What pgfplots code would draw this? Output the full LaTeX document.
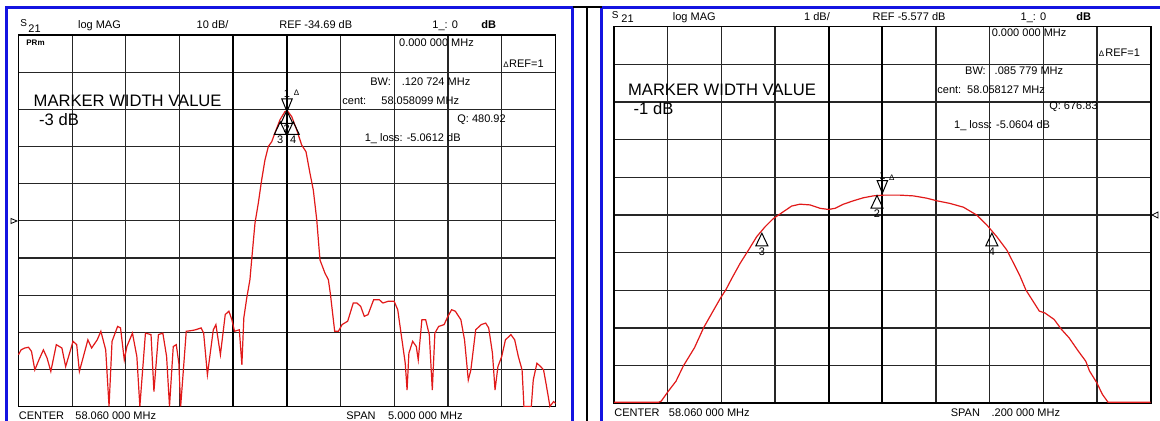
\documentclass[border=0pt]{standalone}
\usepackage{pgfplots}
\pgfplotsset{compat=1.18}
\usepackage{fontspec}
\setmainfont{Liberation Sans}

\definecolor{vnablue}{RGB}{20,20,225}
\definecolor{trace}{RGB}{225,25,25}
\newcommand\sm{\fontsize{5.5}{6}\selectfont}
\newcommand\bg{\fontsize{8.3}{9}\selectfont}

% marker triangles, tip on the trace point
\pgfdeclareplotmark{mkup}{%
  \pgfpathmoveto{\pgfpointorigin}%
  \pgfpathlineto{\pgfpoint{-3pt}{-6.3pt}}%
  \pgfpathlineto{\pgfpoint{3pt}{-6.3pt}}%
  \pgfpathclose\pgfusepathqstroke}
\pgfdeclareplotmark{mkdown}{%
  \pgfpathmoveto{\pgfpointorigin}%
  \pgfpathlineto{\pgfpoint{-2.6pt}{6.3pt}}%
  \pgfpathlineto{\pgfpoint{2.6pt}{6.3pt}}%
  \pgfpathclose\pgfusepathqstroke}

\pgfplotsset{
  vna/.style={
    scale only axis, anchor=south west, clip=false,
    axis line style={black, line width=0.8pt},
    grid=major, grid style={black!85, line width=0.6pt},
    major tick length=0pt,
    xticklabels={}, yticklabels={},
    extra x tick labels={},
    extra x tick style={grid style={black, line width=1.1pt}},
  },
  tr/.style={trace, line width=0.6pt, mark=none},
  mk/.style={only marks, black, line width=0.5pt, point meta=explicit symbolic,
    nodes near coords,
    every node near coord/.append style={anchor=north, yshift=-6.6pt,
      inner sep=0.3pt, font=\sm, text=black}},
  mkd/.style={only marks, black, line width=0.5pt, point meta=explicit symbolic,
    nodes near coords,
    every node near coord/.append style={anchor=south, yshift=6.4pt,
      inner sep=0.3pt, font=\sm, text=black}},
}

\begin{document}
\begin{tikzpicture}
\path[use as bounding box] (0,0) rectangle (580pt,210.5pt);

% frames
\begin{scope}[x=0.5pt,y=0.5pt]
  \clip (0,0) rectangle (1160,421);
  \draw[vnablue, line width=1.3pt] (6.5,-5) -- (6.5,413.5) -- (572.5,413.5) -- (572.5,-5);
  \draw[vnablue, line width=1.3pt] (601.5,-5) -- (601.5,413.5) -- (1170,413.5);
  \draw[black, line width=1pt] (572.5,413.5) -- (601.5,413.5) (586.7,413.5) -- (586.7,-5);
  % reference position arrows
  \draw[line width=0.4pt] (11,202.5) -- (17,200) -- (11,197.5) -- cycle;
  \draw[line width=0.4pt] (1158,209) -- (1152,206) -- (1158,203) -- cycle;
\end{scope}

% left: 10 dB/div, span 5 MHz
\begin{axis}[vna, at={(9.25pt,7.15pt)}, width=268.5pt, height=185.85pt,
  xmin=-2.5, xmax=2.5, ymin=-84.69, ymax=15.31,
  xtick={-2,-1.5,-1,0.5,1,1.5,2}, extra x ticks={-0.5,0},
  ytick={-74.69,-64.69,-54.69,-44.69,-34.69,-24.69,-14.69,-4.69,5.31}]
\addplot[tr] coordinates {
(-2.500,-70.7) (-2.476,-69.4) (-2.441,-68.9) (-2.407,-68.7) (-2.379,-69.8)
(-2.348,-74.8) (-2.310,-72.1) (-2.268,-69.4) (-2.234,-71.6) (-2.199,-75.2)
(-2.148,-68.0) (-2.096,-68.9) (-2.061,-73.9) (-1.992,-67.1) (-1.958,-68.0)
(-1.933,-75.2) (-1.854,-66.7) (-1.819,-68.9) (-1.767,-66.7) (-1.733,-64.4)
(-1.688,-69.4) (-1.657,-84.6) (-1.629,-67.1) (-1.577,-63.1) (-1.550,-63.5)
(-1.515,-72.1) (-1.491,-68.5) (-1.439,-64.9) (-1.398,-71.2) (-1.370,-84.6)
(-1.318,-64.9) (-1.266,-65.3) (-1.239,-80.6) (-1.197,-65.3) (-1.156,-64.9)
(-1.121,-71.2) (-1.094,-84.6) (-1.059,-68.5) (-1.031,-68.0) (-1.007,-73.0)
(-0.990,-84.6) (-0.938,-64.4) (-0.886,-64.2) (-0.852,-64.0) (-0.800,-63.5)
(-0.776,-64.9) (-0.741,-76.1) (-0.686,-64.0) (-0.662,-62.6) (-0.620,-70.7)
(-0.575,-59.9) (-0.541,-59.0) (-0.513,-61.3) (-0.489,-64.4) (-0.444,-64.0)
(-0.420,-73.4) (-0.402,-60.8) (-0.375,-55.5) (-0.345,-50.5) (-0.329,-45.2)
(-0.298,-35.3) (-0.267,-29.9) (-0.236,-23.7) (-0.205,-18.3) (-0.174,-14.7)
(-0.142,-13.4) (-0.112,-11.0) (-0.065,-7.5) (-0.019,-5.3) (0.003,-5.06)
(0.044,-6.65) (0.090,-10.2) (0.137,-14.3) (0.177,-16.1) (0.214,-21.9)
(0.245,-26.4) (0.277,-34.4) (0.307,-45.2) (0.354,-48.8) (0.385,-50.5)
(0.403,-54.1) (0.444,-64.4) (0.479,-64.4) (0.513,-62.6) (0.565,-61.7)
(0.617,-56.8) (0.651,-56.8) (0.686,-57.7) (0.720,-60.4) (0.755,-59.9)
(0.807,-55.9) (0.859,-55.9) (0.893,-56.8) (0.945,-56.3) (0.997,-56.3)
(1.031,-58.6) (1.066,-65.8) (1.101,-73.0) (1.118,-80.2) (1.135,-70.3)
(1.170,-67.1) (1.204,-68.5) (1.222,-72.1) (1.256,-61.3) (1.291,-61.3)
(1.325,-65.3) (1.353,-80.2) (1.377,-64.9) (1.412,-63.1) (1.463,-62.6)
(1.498,-60.4) (1.533,-58.6) (1.567,-59.0) (1.619,-61.3) (1.653,-66.7)
(1.688,-77.5) (1.712,-74.8) (1.757,-64.0) (1.809,-62.6) (1.850,-62.2)
(1.878,-63.5) (1.913,-70.3) (1.937,-80.2) (1.964,-73.9) (1.999,-71.2)
(2.034,-66.7) (2.085,-65.3) (2.120,-66.7) (2.154,-71.2) (2.189,-74.8)
(2.206,-84.6) (2.275,-84.6) (2.293,-77.5) (2.327,-73.0) (2.362,-73.9)
(2.389,-74.8) (2.414,-78.8) (2.448,-84.6) (2.483,-83.3) (2.500,-83.8)
};
\addplot[mk, mark=mkup] coordinates {(-0.002,-5.06) [2] (-0.0624,-8.06) [3] (0.0584,-8.06) [4]};
\addplot[mkd, mark=mkdown] coordinates {(0,-5.3) [1]};
\node[font=\fontsize{4}{4}\selectfont, inner sep=0] at (axis cs:0.09,-0.36) {Δ};
\end{axis}

% right: 1 dB/div, span 0.2 MHz
\begin{axis}[vna, at={(307pt,8.85pt)}, width=268.35pt, height=188.3pt,
  xmin=-0.1, xmax=0.1, ymin=-10.577, ymax=-0.577,
  xtick={-0.08,-0.06,-0.04,0.02,0.04,0.06,0.08}, extra x ticks={-0.02,0},
  ytick={-9.577,-8.577,-7.577,-6.577,-5.577,-4.577,-3.577,-2.577,-1.577}]
\addplot[tr] coordinates {
(-0.1,-10.55) (-0.0834,-10.55) (-0.0824,-10.52) (-0.0797,-10.25) (-0.0769,-9.99)
(-0.0742,-9.59) (-0.0700,-9.10) (-0.0666,-8.57) (-0.0631,-8.13) (-0.0603,-7.78)
(-0.0583,-7.56) (-0.0561,-7.26) (-0.0530,-6.86) (-0.0499,-6.51) (-0.0468,-6.15)
(-0.0437,-5.89) (-0.0406,-5.67) (-0.0369,-5.49) (-0.0338,-5.34) (-0.0307,-5.29)
(-0.0269,-5.31) (-0.0232,-5.40) (-0.0201,-5.43) (-0.0176,-5.40) (-0.0145,-5.29)
(-0.0108,-5.20) (-0.0071,-5.12) (-0.0034,-5.07) (0.0004,-5.05) (0.0066,-5.05)
(0.0116,-5.07) (0.0165,-5.13) (0.0203,-5.20) (0.0252,-5.27) (0.0302,-5.37)
(0.0352,-5.58) (0.0389,-5.84) (0.0426,-6.15) (0.0464,-6.51) (0.0487,-6.83)
(0.0513,-7.20) (0.0535,-7.57) (0.0585,-8.13) (0.0606,-8.18) (0.0640,-8.35)
(0.0668,-8.62) (0.0696,-8.84) (0.0730,-9.19) (0.0758,-9.46) (0.0772,-9.72)
(0.0799,-10.03) (0.0820,-10.34) (0.0841,-10.55) (0.1,-10.55)
};
\addplot[mk, mark=mkup] coordinates {(-0.002,-5.06) [2] (-0.0449,-6.06) [3] (0.0408,-6.06) [4]};
\addplot[mkd, mark=mkdown] coordinates {(0,-5.0) [1]};
\node[font=\fontsize{4}{4}\selectfont, inner sep=0] at (axis cs:0.0035,-4.60) {Δ};
\end{axis}

% annotation texts, in pixel units
\begin{scope}[x=0.5pt,y=0.5pt, every node/.style={inner sep=0, anchor=base west, font=\sm}]
  % left
  \node[font=\fontsize{5}{5}\selectfont] at (20,394) {S};
  \node at (28,388.7) {21};
  \node at (77.7,392) {log MAG};
  \node at (196.3,392) {10 dB/};
  \node at (279,392) {REF -34.69 dB};
  \node at (432,392) {1\_: 0};
  \node at (481,392) {\bfseries dB};
  \node[font=\fontsize{4}{4}\selectfont\bfseries] at (26,375) {PRm};
  \node at (398.8,374.4) {0.000 000 MHz};
  \node[font=\fontsize{4}{4}\selectfont] at (503,353.6) {Δ};
  \node at (508.7,353.6) {REF=1};
  \node at (370,335) {BW:};
  \node at (401.4,335) {.120 724 MHz};
  \node[font=\bg] at (33.3,314.6) {MARKER WIDTH VALUE};
  \node at (342,316.7) {cent:};
  \node at (381,316.7) {58.058099 MHz};
  \node at (457,298.3) {Q: 480.92};
  \node[font=\bg] at (38.8,295.2) {-3 dB};
  \node at (364.4,279.9) {1\_ loss: -5.0612 dB};
  \node at (18.5,1) {CENTER};
  \node at (75,1) {58.060 000 MHz};
  \node at (346,1) {SPAN};
  \node at (387.7,1) {5.000 000 MHz};
  % right
  \node[font=\fontsize{5}{5}\selectfont] at (611.4,402.7) {S};
  \node at (621,398.5) {21};
  \node at (672.5,400.7) {log MAG};
  \node at (803.8,400.7) {1 dB/};
  \node at (872.3,400.7) {REF -5.577 dB};
  \node at (1020.3,400.7) {1\_: 0};
  \node at (1075.9,400.7) {\bfseries dB};
  \node at (991.4,384) {0.000 000 MHz};
  \node[font=\fontsize{4}{4}\selectfont] at (1098.5,364) {Δ};
  \node at (1105,364) {REF=1};
  \node at (964.8,346) {BW:};
  \node at (994.3,346) {.085 779 MHz};
  \node[font=\bg] at (627.7,325.5) {MARKER WIDTH VALUE};
  \node at (937,327.6) {cent:};
  \node at (966.8,327.6) {58.058127 MHz};
  \node at (1048.9,311.5) {Q: 676.83};
  \node[font=\bg] at (633.3,306.2) {-1 dB};
  \node at (953.8,292.2) {1\_ loss: -5.0604 dB};
  \node at (614,4.5) {CENTER};
  \node at (668.5,4.5) {58.060 000 MHz};
  \node at (950.4,4.5) {SPAN};
  \node at (991.2,4.5) {.200 000 MHz};
\end{scope}
\end{tikzpicture}
\end{document}
